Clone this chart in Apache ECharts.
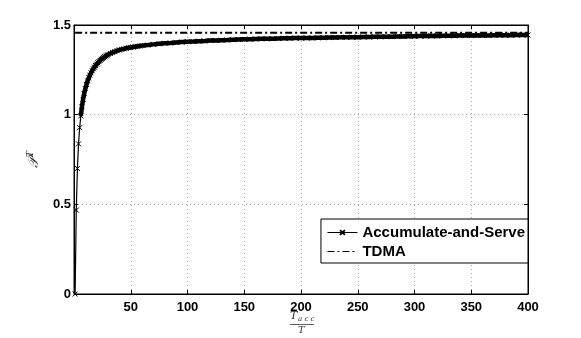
<!DOCTYPE html>
<html>
<head>
<meta charset="utf-8">
<script src="https://cdn.jsdelivr.net/npm/echarts@6/dist/echarts.min.js"></script>
<style>
  html, body { margin: 0; padding: 0; background: #fff; }
  #chart { width: 581px; height: 338px; }
</style>
</head>
<body>
<div id="chart"></div>
<script>
// T_acc / T ratio and the power
const ratio = [
  1, 2, 3, 4, 5, 6, 7, 8, 9, 10, 11, 12, 13, 14, 15, 16, 17, 18, 19, 20,
  21, 22, 23, 24, 25, 26, 27, 28, 29, 30, 32, 34, 36, 38, 40, 42, 44, 46, 48, 50,
  52, 54, 56, 58, 60, 65, 70, 75, 80, 85, 90, 95, 100, 105, 110, 115, 120, 125, 130, 135,
  140, 145, 150, 155, 160, 165, 170, 175, 180, 185, 190, 195, 200, 205, 210, 215, 220, 225, 230, 235,
  240, 245, 250, 255, 260, 265, 270, 275, 280, 285, 290, 295, 300, 305, 310, 315, 320, 325, 330, 335,
  340, 345, 350, 355, 360, 365, 370, 375, 380, 385, 390, 395, 400
];
const power = [
  0, 0.468, 0.700, 0.837, 0.928, 0.993, 1.045, 1.085, 1.118, 1.145, 1.168, 1.188, 1.205, 1.220, 1.233, 1.245, 1.256, 1.265, 1.274, 1.282,
  1.289, 1.296, 1.302, 1.308, 1.313, 1.318, 1.323, 1.327, 1.331, 1.335, 1.341, 1.347, 1.352, 1.357, 1.361, 1.364, 1.367, 1.370, 1.373, 1.375,
  1.377, 1.379, 1.381, 1.383, 1.385, 1.388, 1.392, 1.395, 1.398, 1.400, 1.403, 1.405, 1.407, 1.408, 1.410, 1.411, 1.413, 1.414, 1.415, 1.416,
  1.418, 1.419, 1.420, 1.421, 1.422, 1.423, 1.423, 1.424, 1.425, 1.426, 1.426, 1.427, 1.427, 1.428, 1.428, 1.429, 1.429, 1.430, 1.430, 1.431,
  1.431, 1.432, 1.432, 1.433, 1.433, 1.434, 1.434, 1.435, 1.435, 1.436, 1.436, 1.437, 1.437, 1.438, 1.438, 1.439, 1.439, 1.440, 1.440, 1.440,
  1.441, 1.441, 1.441, 1.442, 1.442, 1.442, 1.443, 1.443, 1.443, 1.443, 1.444, 1.444, 1.444
];
const tdmaRatio = [1, 400];
const tdmaPower = [1.457, 1.457];
const xTicks = [0, 400, 50];     // min, max, step
const yTicks = [0, 1.5, 0.5];

const font = "'Liberation Sans', Arial, sans-serif";
const cross = "path://M0,0L10,10M10,0L0,10";

const chart = echarts.init(document.getElementById("chart"));

const points = ratio.map((x, i) => [x, power[i]]);
// markers are so close after ~6 that they merge into a solid band
const bandPoints = points.filter((p) => p[0] >= 6);

const axisBase = {
  type: "value",
  axisLine: { show: true, onZero: false, lineStyle: { color: "#000", width: 1 } },
  axisTick: { show: true, inside: true, length: 4, lineStyle: { color: "#000" } },
};

chart.setOption({
  animation: false,
  backgroundColor: "#fff",
  grid: { left: 74, right: 53, top: 25, bottom: 44, show: true, borderColor: "#000", borderWidth: 1 },
  legend: {
    orient: "vertical",
    right: 53,
    top: 219,
    backgroundColor: "#fff",
    borderColor: "#000",
    borderWidth: 1,
    borderRadius: 0,
    padding: [6, 3, 4, 6],
    itemGap: 4,
    itemWidth: 30,
    itemHeight: 6,
    lineStyle: { width: 1 },
    textStyle: { fontFamily: font, fontWeight: "bold", fontSize: 15, color: "#000" },
    data: [
      { name: "Accumulate-and-Serve" },
      { name: "TDMA", itemStyle: { color: "rgba(0,0,0,0)", borderColor: "rgba(0,0,0,0)", borderWidth: 0 } },
    ],
  },
  xAxis: [
    {
      ...axisBase,
      min: xTicks[0], max: xTicks[1], interval: xTicks[2],
      axisLabel: {
        color: "#000", fontFamily: font, fontWeight: "bold", fontSize: 13, margin: 7,
        formatter: (v) => (v === 0 ? "" : String(v)),
      },
      splitLine: { show: true, lineStyle: { color: "#aaa", type: [1, 3], width: 1 } },
    },
    {
      ...axisBase,
      position: "top",
      min: xTicks[0], max: xTicks[1], interval: xTicks[2],
      axisLabel: { show: false },
      splitLine: { show: false },
    },
  ],
  yAxis: [
    {
      ...axisBase,
      min: yTicks[0], max: yTicks[1], interval: yTicks[2],
      axisLabel: { color: "#000", fontFamily: font, fontWeight: "bold", fontSize: 13, margin: 3 },
      splitLine: { show: true, lineStyle: { color: "#aaa", type: [1, 3], width: 1 } },
      name: "{p|𝒫}{s|T}",
      nameLocation: "middle",
      nameRotate: 90,
      nameGap: 31,
      nameTextStyle: {
        rich: {
          p: { fontFamily: "'DejaVu Serif', serif", fontStyle: "italic", fontSize: 14, color: "#333" },
          s: { fontFamily: "'DejaVu Serif', serif", fontStyle: "italic", fontSize: 9, color: "#333", padding: [0, 0, 8, 1] },
        },
      },
    },
    {
      ...axisBase,
      position: "right",
      min: yTicks[0], max: yTicks[1], interval: yTicks[2],
      axisLabel: { show: false },
      splitLine: { show: false },
    },
  ],
  series: [
    {
      name: "Accumulate-and-Serve",
      type: "line",
      data: points,
      symbol: cross,
      symbolSize: 5,
      showAllSymbol: true,
      itemStyle: { color: "#000", borderColor: "#000", borderWidth: 1 },
      lineStyle: { color: "#000", width: 1.2 },
      z: 3,
    },
    {
      name: "band",
      type: "line",
      data: bandPoints,
      symbol: "none",
      silent: true,
      lineStyle: { color: "#000", width: 4.5 },
      z: 3,
    },
    {
      name: "TDMA",
      type: "line",
      data: tdmaRatio.map((x, i) => [x, tdmaPower[i]]),
      symbol: "none",
      itemStyle: { color: "#000" },
      lineStyle: { color: "#000", width: 2, type: [7, 3, 2, 3] },
      z: 2,
    },
  ],
  graphic: [
    { type: "text", left: 290, top: 311, style: { text: "T", font: "italic 11px 'DejaVu Serif', serif", fill: "#333" } },
    { type: "text", left: 298, top: 316, style: { text: "a c c", font: "italic 7px 'DejaVu Serif', serif", fill: "#333" } },
    { type: "line", shape: { x1: 290, y1: 324.5, x2: 314, y2: 324.5 }, style: { stroke: "#333", lineWidth: 0.8 } },
    { type: "text", left: 298, top: 325, style: { text: "T", font: "italic 10px 'DejaVu Serif', serif", fill: "#333" } },
  ],
});
</script>
</body>
</html>
